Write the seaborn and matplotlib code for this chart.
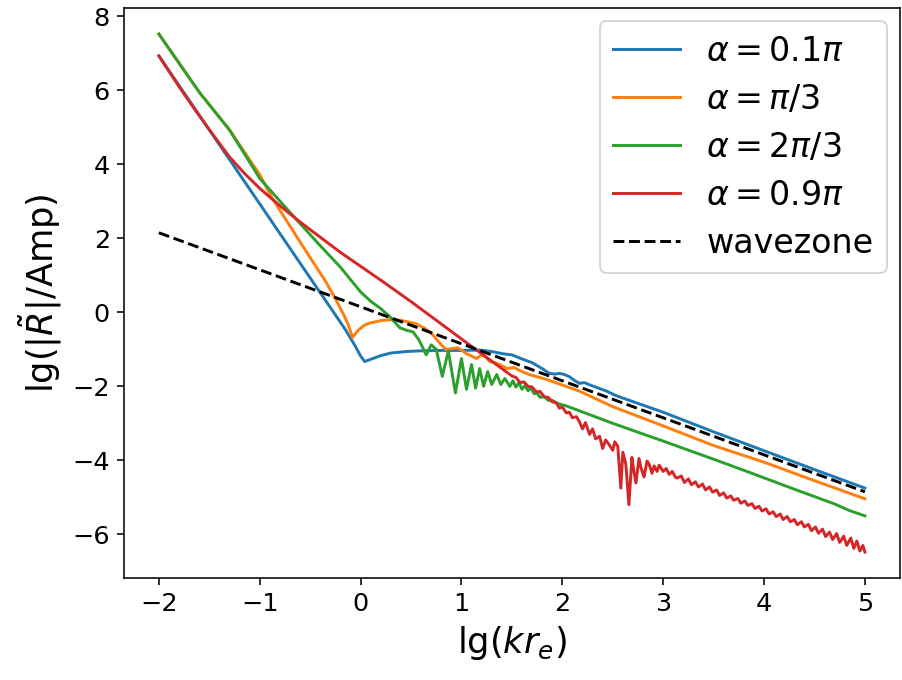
import matplotlib
matplotlib.use("Agg")
import matplotlib.pyplot as plt
import seaborn as sns
import pandas as pd

# values
x_blue = [-2.0, -1.5, -1.0, -0.5, -0.3, -0.15, -0.06, 0.0, 0.04, 0.1, 0.2, 0.3, 0.45,
          0.6, 0.8, 1.0, 1.18, 1.3, 1.41, 1.5, 1.6, 1.7, 1.8, 1.87, 1.93, 1.97, 2.02,
          2.07, 2.12, 2.17, 2.22, 2.27, 2.35, 2.44, 2.53, 3.0, 3.5, 4.0, 4.5, 5.0]
y_blue = [6.93, 4.93, 2.93, 0.93, 0.13, -0.47, -0.88, -1.18, -1.33, -1.27, -1.17, -1.1, -1.06,
          -1.04, -1.03, -1.03, -1.02, -1.06, -1.12, -1.15, -1.26, -1.36, -1.52, -1.65, -1.67, -1.65, -1.68,
          -1.74, -1.84, -1.92, -1.9, -1.96, -2.04, -2.13, -2.25, -2.7, -3.23, -3.74, -4.25, -4.75]

x_orange = [-2.0, -1.6, -1.3, -1.0, -0.88, -0.7, -0.51, -0.35, -0.26, -0.17, -0.12, -0.08,
            -0.03, 0.03, 0.09, 0.21, 0.3, 0.39, 0.55, 0.64, 0.71, 0.8, 0.85, 0.9, 0.96, 1.0,
            1.05, 1.1, 1.15, 1.2, 1.24, 1.28, 1.33, 1.38, 1.45, 1.52, 1.6, 1.67, 1.84, 2.17,
            2.5, 3.0, 3.5, 4.0, 4.5, 5.0]
y_orange = [7.52, 5.95, 4.93, 3.72, 3.1, 2.33, 1.52, 0.85, 0.42, -0.05, -0.35, -0.68,
            -0.5, -0.36, -0.29, -0.22, -0.2, -0.21, -0.31, -0.44, -0.59, -0.88, -1.01, -0.98, -0.96, -1.02,
            -1.12, -1.18, -1.25, -1.15, -1.2, -1.33, -1.36, -1.41, -1.52, -1.49, -1.6, -1.68, -1.81, -2.13,
            -2.55, -3.07, -3.6, -4.05, -4.55, -5.04]

x_green = [-2.0, -1.6, -1.3, -1.0, -0.7, -0.4, -0.2, 0.0, 0.1, 0.2, 0.29, 0.39, 0.45, 0.52,
           0.58, 0.65, 0.7, 0.75, 0.81, 0.87, 0.94, 1.0, 1.05, 1.1, 1.14, 1.18, 1.22, 1.26,
           1.3, 1.35, 1.39, 1.43, 1.48, 1.51, 1.54, 1.57, 1.6, 1.63, 1.66, 1.69, 1.72, 1.75,
           1.78, 1.82, 1.86, 1.9, 1.95, 2.0, 2.04, 2.5, 3.0, 3.5, 3.85, 4.3, 4.7, 4.85, 5.0]
y_green = [7.52, 5.95, 4.93, 3.62, 2.7, 1.8, 1.22, 0.55, 0.3, 0.1, -0.12, -0.42, -0.48, -0.53,
           -0.75, -1.15, -0.88, -1.0, -1.73, -1.04, -2.18, -1.25, -2.08, -1.41, -2.05, -1.52, -2.0, -1.6,
           -1.95, -1.68, -1.95, -1.79, -2.0, -1.85, -2.02, -1.9, -2.08, -1.98, -2.12, -2.05, -2.2, -2.18,
           -2.3, -2.28, -2.38, -2.38, -2.46, -2.5, -2.53, -3.0, -3.48, -3.97, -4.32, -4.78, -5.18, -5.36, -5.5]

x_red = [-2.0, -1.8, -1.62, -1.45, -1.3, -1.15, -1.0, -0.8, -0.58, -0.2, 0.21, 0.51, 1.08, 1.3,
         1.5, 1.54, 1.58, 1.62, 1.66, 1.7, 1.74, 1.78, 1.82, 1.86, 1.9, 1.94, 1.97, 2.0,
         2.04, 2.07, 2.1, 2.14, 2.17, 2.2, 2.23, 2.27, 2.3, 2.33, 2.37, 2.4, 2.43, 2.47,
         2.5, 2.52, 2.55, 2.58, 2.6, 2.63, 2.66, 2.69, 2.71, 2.73, 2.76, 2.78, 2.81, 2.84,
         2.86, 2.89, 2.91, 2.94, 2.96, 3.0, 3.03, 3.06, 3.09, 3.12,
         3.14, 3.18, 3.21, 3.25, 3.28, 3.32, 3.35, 3.39, 3.42, 3.46, 3.49, 3.53, 3.56, 3.6,
         3.63, 3.67, 3.7, 3.74, 3.77, 3.81, 3.84, 3.88, 3.91, 3.95, 3.98, 4.02, 4.05, 4.09,
         4.12, 4.16, 4.19, 4.23, 4.26, 4.3, 4.33, 4.37, 4.4, 4.44, 4.47, 4.51, 4.54, 4.58,
         4.61, 4.65, 4.68, 4.72, 4.75, 4.79, 4.82, 4.86, 4.89, 4.92, 4.95, 4.98, 5.0]
y_red = [6.93, 6.1, 5.39, 4.75, 4.2, 3.75, 3.35, 2.88, 2.4, 1.62, 0.85, 0.27, -0.88, -1.32,
         -1.72, -1.76, -1.9, -1.88, -2.0, -2.02, -2.15, -2.14, -2.28, -2.3, -2.42, -2.44, -2.59, -2.56,
         -2.72, -2.7, -2.85, -2.82, -2.96, -3.15, -2.98, -3.3, -3.15, -3.42, -3.35, -3.68, -3.45, -3.6,
         -3.73, -3.5, -3.62, -4.75, -3.78, -4.1, -5.2, -3.92, -4.3, -4.61, -3.95, -4.2, -4.45, -4.02,
         -4.1, -4.35, -4.15, -4.3, -4.13, -4.3, -4.22, -4.38, -4.3, -4.45,
         -4.48, -4.42, -4.6, -4.5, -4.66, -4.58, -4.72, -4.64, -4.8, -4.72, -4.86, -4.8, -4.95, -4.88,
         -5.02, -4.96, -5.08, -5.03, -5.16, -5.1, -5.22, -5.17, -5.3, -5.24, -5.37, -5.31, -5.45, -5.39,
         -5.52, -5.45, -5.6, -5.52, -5.66, -5.6, -5.74, -5.66, -5.8, -5.73, -5.9, -5.8, -5.97, -5.86,
         -6.06, -5.94, -6.14, -5.98, -6.22, -6.05, -6.3, -6.1, -6.38, -6.18, -6.45, -6.3, -6.48]

x_wave = [-2.0, 5.0]
y_wave = [2.15, -4.85]

labels = [r"$\alpha=0.1\pi$", r"$\alpha=\pi/3$", r"$\alpha=2\pi/3$", r"$\alpha=0.9\pi$", "wavezone"]
colors = ["#1f77b4", "#ff7f0e", "#2ca02c", "#d62728"]

fig, ax = plt.subplots(figsize=(902 / 141, 680 / 141), dpi=141)
series = [(x_blue, y_blue), (x_orange, y_orange), (x_green, y_green), (x_red, y_red)]
for (xs, ys), lab, c in zip(series, labels, colors):
    df = pd.DataFrame({"x": xs, "y": ys})
    sns.lineplot(data=df, x="x", y="y", ax=ax, color=c, label=lab,
                 estimator=None, sort=False, linewidth=1.5)
dfw = pd.DataFrame({"x": x_wave, "y": y_wave})
sns.lineplot(data=dfw, x="x", y="y", ax=ax, color="black", label=labels[4],
             estimator=None, sort=False, linewidth=1.5, linestyle="--")

ax.set_xticks(range(-2, 6))
ax.set_yticks(range(-6, 9, 2))
ax.tick_params(labelsize=13)
ax.set_xlabel(r"lg($kr_e$)", fontsize=18)
ax.set_ylabel(r"lg($|\tilde{R}|$/Amp)", fontsize=18)
ax.legend(loc="upper right", fontsize=17, labelspacing=0.45, borderaxespad=0.4)
fig.subplots_adjust(left=0.137, right=0.998, top=0.988, bottom=0.15)
fig.savefig("out.png", dpi=141)
